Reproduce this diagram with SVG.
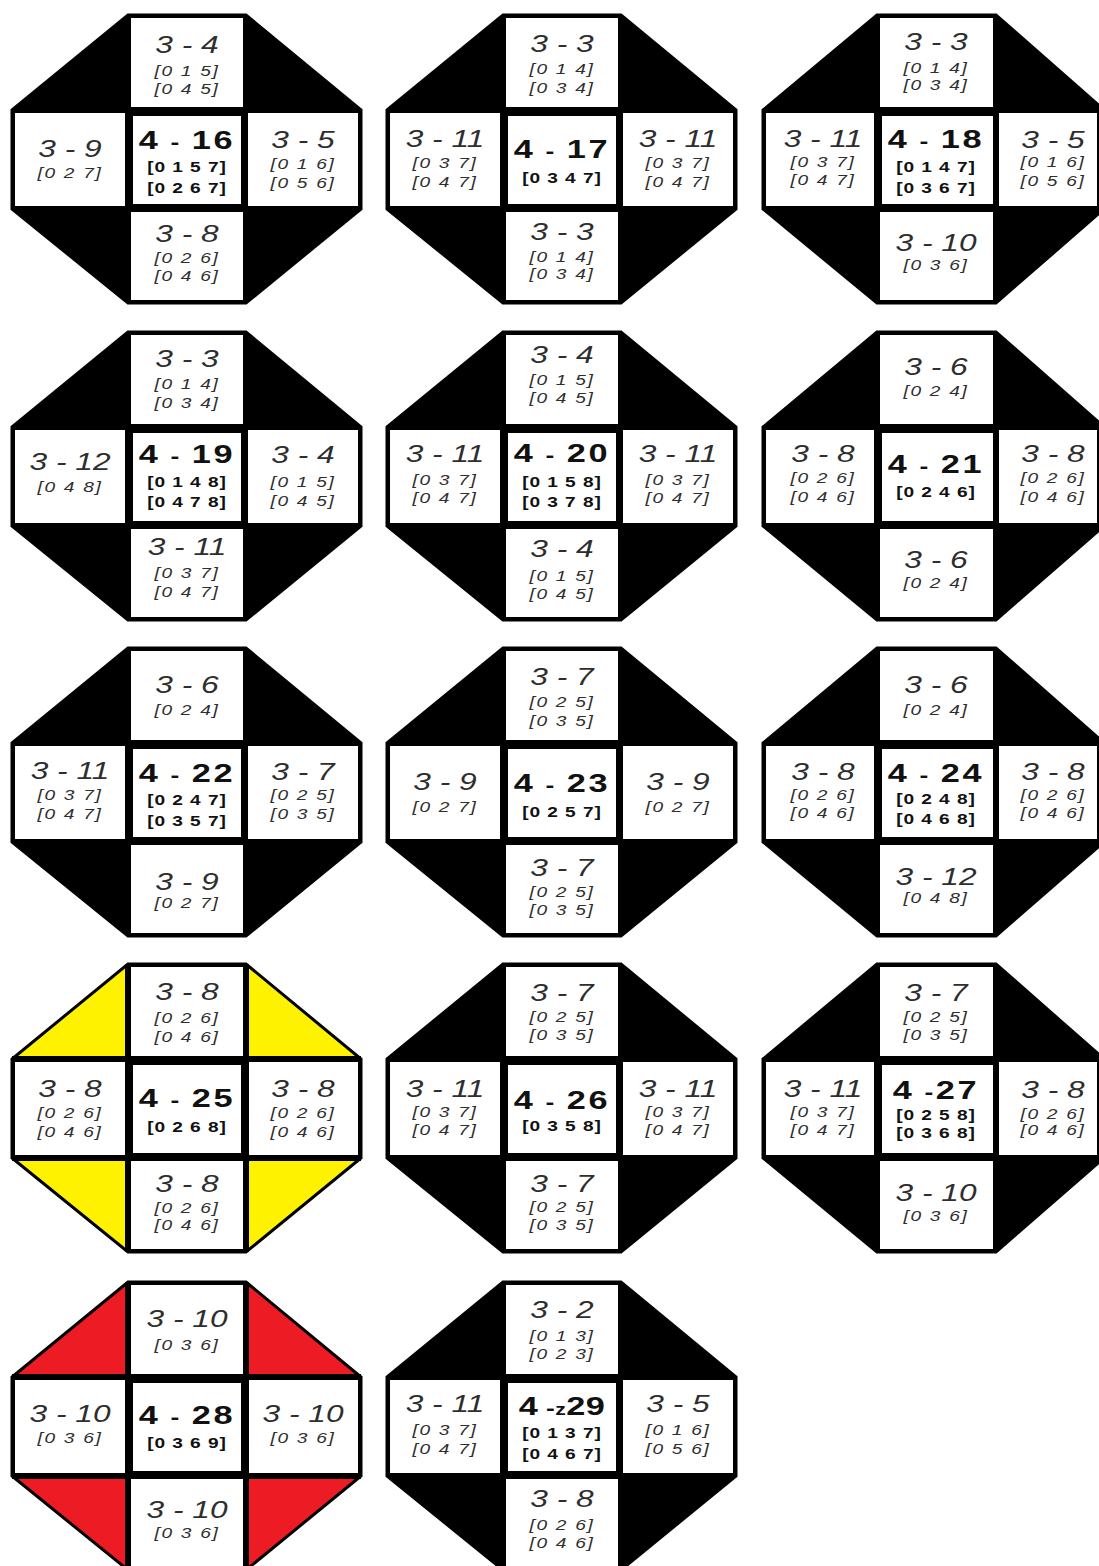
<svg xmlns="http://www.w3.org/2000/svg" width="1099" height="1566" viewBox="0 0 1099 1566">
<style>
text{text-anchor:middle;font-family:"Liberation Sans",Arial,sans-serif}
.m{font-style:italic;font-size:24px;fill:#2e2e2e}
.b{font-style:italic;font-size:14.5px;letter-spacing:1.3px;fill:#2e2e2e}
.M{font-weight:bold;font-size:26px;letter-spacing:2px;fill:#111}
.B{font-weight:bold;font-size:14.5px;letter-spacing:0.7px;fill:#111}
.d{font-size:20px}
.z{font-size:16px}
.w{fill:#fff}
.k{fill:#000}
.o{stroke:#000;stroke-width:3;stroke-linejoin:miter}
</style>
<defs>
<polygon id="oct" class="o" points="116,0 234,0 349,95 349,194 234,288 116,288 0,194 0,95"/>
<g id="cells">
<rect class="k" x="116" y="0" width="118" height="288"/>
<rect class="k" x="0" y="95" width="349" height="99"/>
<rect class="w" x="119" y="3" width="112" height="89"/>
<rect class="w" x="3" y="98" width="110" height="93"/>
<rect class="w" x="121" y="101" width="108" height="88"/>
<rect class="w" x="236" y="98" width="110" height="93"/>
<rect class="w" x="119" y="197" width="112" height="88"/>
</g>
<polygon id="octR" class="o" points="114,0 233,0 341,95 341,194 233,288 114,288 0,194 0,95"/>
<g id="cellsR">
<rect class="k" x="114" y="0" width="119" height="288"/>
<rect class="k" x="0" y="95" width="341" height="99"/>
<rect class="w" x="117" y="3" width="113" height="89"/>
<rect class="w" x="3" y="98" width="108" height="93"/>
<rect class="w" x="119" y="101" width="111" height="88"/>
<rect class="w" x="236" y="98" width="98" height="93"/>
<rect class="w" x="117" y="197" width="113" height="88"/>
</g>
</defs>

<g id="connectors"/>

<g id="n4-16" transform="translate(12,15)">
<use href="#oct" fill="#000"/><use href="#cells"/>
<g transform="translate(175,0) scale(1.32,1)"><text class="m" y="38">3 - 4</text><text class="b" y="61">[0 1 5]</text><text class="b" y="79">[0 4 5]</text></g>
<g transform="translate(58,0) scale(1.32,1)"><text class="m" y="142">3 - 9</text><text class="b" y="163">[0 2 7]</text></g>
<g transform="translate(175,0) scale(1.32,1)"><text class="M" y="134">4<tspan class="d"> - </tspan>16</text><text class="B" y="157">[0 1 5 7]</text><text class="B" y="178">[0 2 6 7]</text></g>
<g transform="translate(291,0) scale(1.32,1)"><text class="m" y="133">3 - 5</text><text class="b" y="154">[0 1 6]</text><text class="b" y="173">[0 5 6]</text></g>
<g transform="translate(175,0) scale(1.32,1)"><text class="m" y="227">3 - 8</text><text class="b" y="248">[0 2 6]</text><text class="b" y="266">[0 4 6]</text></g>
</g>

<g id="n4-17" transform="translate(387,15)">
<use href="#oct" fill="#000"/><use href="#cells"/>
<g transform="translate(175,0) scale(1.32,1)"><text class="m" y="37">3 - 3</text><text class="b" y="59">[0 1 4]</text><text class="b" y="78">[0 3 4]</text></g>
<g transform="translate(58,0) scale(1.32,1)"><text class="m" y="132">3 - 11</text><text class="b" y="153">[0 3 7]</text><text class="b" y="172">[0 4 7]</text></g>
<g transform="translate(175,0) scale(1.32,1)"><text class="M" y="143">4<tspan class="d"> - </tspan>17</text><text class="B" y="168">[0 3 4 7]</text></g>
<g transform="translate(291,0) scale(1.32,1)"><text class="m" y="132">3 - 11</text><text class="b" y="153">[0 3 7]</text><text class="b" y="172">[0 4 7]</text></g>
<g transform="translate(175,0) scale(1.32,1)"><text class="m" y="225">3 - 3</text><text class="b" y="247">[0 1 4]</text><text class="b" y="264">[0 3 4]</text></g>
</g>

<g id="n4-18" transform="translate(763,15)">
<use href="#octR" fill="#000"/><use href="#cellsR"/>
<g transform="translate(173,0) scale(1.32,1)"><text class="m" y="35">3 - 3</text><text class="b" y="58">[0 1 4]</text><text class="b" y="75">[0 3 4]</text></g>
<g transform="translate(60,0) scale(1.32,1)"><text class="m" y="132">3 - 11</text><text class="b" y="152">[0 3 7]</text><text class="b" y="170">[0 4 7]</text></g>
<g transform="translate(173,0) scale(1.32,1)"><text class="M" y="133">4<tspan class="d"> - </tspan>18</text><text class="B" y="157">[0 1 4 7]</text><text class="B" y="178">[0 3 6 7]</text></g>
<g transform="translate(290,0) scale(1.32,1)"><text class="m" y="133">3 - 5</text><text class="b" y="152">[0 1 6]</text><text class="b" y="171">[0 5 6]</text></g>
<g transform="translate(173,0) scale(1.32,1)"><text class="m" y="236">3 - 10</text><text class="b" y="255">[0 3 6]</text></g>
</g>

<g id="n4-19" transform="translate(12,332)">
<use href="#oct" fill="#000"/><use href="#cells"/>
<g transform="translate(175,0) scale(1.32,1)"><text class="m" y="35">3 - 3</text><text class="b" y="57">[0 1 4]</text><text class="b" y="76">[0 3 4]</text></g>
<g transform="translate(58,0) scale(1.32,1)"><text class="m" y="138">3 - 12</text><text class="b" y="160">[0 4 8]</text></g>
<g transform="translate(175,0) scale(1.32,1)"><text class="M" y="131">4<tspan class="d"> - </tspan>19</text><text class="B" y="155">[0 1 4 8]</text><text class="B" y="175">[0 4 7 8]</text></g>
<g transform="translate(291,0) scale(1.32,1)"><text class="m" y="131">3 - 4</text><text class="b" y="155">[0 1 5]</text><text class="b" y="174">[0 4 5]</text></g>
<g transform="translate(175,0) scale(1.32,1)"><text class="m" y="223">3 - 11</text><text class="b" y="246">[0 3 7]</text><text class="b" y="265">[0 4 7]</text></g>
</g>

<g id="n4-20" transform="translate(387,332)">
<use href="#oct" fill="#000"/><use href="#cells"/>
<g transform="translate(175,0) scale(1.32,1)"><text class="m" y="31">3 - 4</text><text class="b" y="53">[0 1 5]</text><text class="b" y="71">[0 4 5]</text></g>
<g transform="translate(58,0) scale(1.32,1)"><text class="m" y="130">3 - 11</text><text class="b" y="153">[0 3 7]</text><text class="b" y="171">[0 4 7]</text></g>
<g transform="translate(175,0) scale(1.32,1)"><text class="M" y="130">4<tspan class="d"> - </tspan>20</text><text class="B" y="155">[0 1 5 8]</text><text class="B" y="175">[0 3 7 8]</text></g>
<g transform="translate(291,0) scale(1.32,1)"><text class="m" y="130">3 - 11</text><text class="b" y="153">[0 3 7]</text><text class="b" y="171">[0 4 7]</text></g>
<g transform="translate(175,0) scale(1.32,1)"><text class="m" y="225">3 - 4</text><text class="b" y="249">[0 1 5]</text><text class="b" y="267">[0 4 5]</text></g>
</g>

<g id="n4-21" transform="translate(763,332)">
<use href="#octR" fill="#000"/><use href="#cellsR"/>
<g transform="translate(173,0) scale(1.32,1)"><text class="m" y="43">3 - 6</text><text class="b" y="64">[0 2 4]</text></g>
<g transform="translate(60,0) scale(1.32,1)"><text class="m" y="130">3 - 8</text><text class="b" y="151">[0 2 6]</text><text class="b" y="170">[0 4 6]</text></g>
<g transform="translate(173,0) scale(1.32,1)"><text class="M" y="141">4<tspan class="d"> - </tspan>21</text><text class="B" y="165">[0 2 4 6]</text></g>
<g transform="translate(290,0) scale(1.32,1)"><text class="m" y="130">3 - 8</text><text class="b" y="151">[0 2 6]</text><text class="b" y="170">[0 4 6]</text></g>
<g transform="translate(173,0) scale(1.32,1)"><text class="m" y="236">3 - 6</text><text class="b" y="256">[0 2 4]</text></g>
</g>

<g id="n4-22" transform="translate(12,648)">
<use href="#oct" fill="#000"/><use href="#cells"/>
<g transform="translate(175,0) scale(1.32,1)"><text class="m" y="45">3 - 6</text><text class="b" y="67">[0 2 4]</text></g>
<g transform="translate(58,0) scale(1.32,1)"><text class="m" y="131">3 - 11</text><text class="b" y="152">[0 3 7]</text><text class="b" y="171">[0 4 7]</text></g>
<g transform="translate(175,0) scale(1.32,1)"><text class="M" y="134">4<tspan class="d"> - </tspan>22</text><text class="B" y="157">[0 2 4 7]</text><text class="B" y="178">[0 3 5 7]</text></g>
<g transform="translate(291,0) scale(1.32,1)"><text class="m" y="132">3 - 7</text><text class="b" y="152">[0 2 5]</text><text class="b" y="171">[0 3 5]</text></g>
<g transform="translate(175,0) scale(1.32,1)"><text class="m" y="242">3 - 9</text><text class="b" y="260">[0 2 7]</text></g>
</g>

<g id="n4-23" transform="translate(387,648)">
<use href="#oct" fill="#000"/><use href="#cells"/>
<g transform="translate(175,0) scale(1.32,1)"><text class="m" y="37">3 - 7</text><text class="b" y="59">[0 2 5]</text><text class="b" y="78">[0 3 5]</text></g>
<g transform="translate(58,0) scale(1.32,1)"><text class="m" y="142">3 - 9</text><text class="b" y="164">[0 2 7]</text></g>
<g transform="translate(175,0) scale(1.32,1)"><text class="M" y="144">4<tspan class="d"> - </tspan>23</text><text class="B" y="169">[0 2 5 7]</text></g>
<g transform="translate(291,0) scale(1.32,1)"><text class="m" y="142">3 - 9</text><text class="b" y="164">[0 2 7]</text></g>
<g transform="translate(175,0) scale(1.32,1)"><text class="m" y="228">3 - 7</text><text class="b" y="249">[0 2 5]</text><text class="b" y="267">[0 3 5]</text></g>
</g>

<g id="n4-24" transform="translate(763,648)">
<use href="#octR" fill="#000"/><use href="#cellsR"/>
<g transform="translate(173,0) scale(1.32,1)"><text class="m" y="45">3 - 6</text><text class="b" y="67">[0 2 4]</text></g>
<g transform="translate(60,0) scale(1.32,1)"><text class="m" y="132">3 - 8</text><text class="b" y="152">[0 2 6]</text><text class="b" y="170">[0 4 6]</text></g>
<g transform="translate(173,0) scale(1.32,1)"><text class="M" y="134">4<tspan class="d"> - </tspan>24</text><text class="B" y="156">[0 2 4 8]</text><text class="B" y="176">[0 4 6 8]</text></g>
<g transform="translate(290,0) scale(1.32,1)"><text class="m" y="132">3 - 8</text><text class="b" y="152">[0 2 6]</text><text class="b" y="170">[0 4 6]</text></g>
<g transform="translate(173,0) scale(1.32,1)"><text class="m" y="237">3 - 12</text><text class="b" y="255">[0 4 8]</text></g>
</g>

<g id="n4-25" transform="translate(12,964)">
<use href="#cells"/><use href="#oct" fill="#fff200"/>
<rect class="k" x="116" y="0" width="118" height="3"/><rect class="k" x="116" y="285" width="118" height="3"/>
<rect class="k" x="113" y="0" width="6" height="288"/><rect class="k" x="231" y="0" width="6" height="288"/>
<rect class="k" x="0" y="92" width="349" height="6"/><rect class="k" x="0" y="191" width="349" height="6"/>
<rect class="k" x="0" y="95" width="3" height="99"/><rect class="k" x="346" y="95" width="3" height="99"/>
<rect class="w" x="119" y="3" width="112" height="89"/>
<rect class="w" x="3" y="98" width="110" height="93"/>
<rect class="k" x="113" y="95" width="124" height="99"/>
<rect class="w" x="121" y="101" width="108" height="88"/>
<rect class="w" x="237" y="98" width="109" height="93"/>
<rect class="w" x="119" y="197" width="112" height="88"/>
<g transform="translate(175,0) scale(1.32,1)"><text class="m" y="36">3 - 8</text><text class="b" y="59">[0 2 6]</text><text class="b" y="78">[0 4 6]</text></g>
<g transform="translate(58,0) scale(1.32,1)"><text class="m" y="133">3 - 8</text><text class="b" y="154">[0 2 6]</text><text class="b" y="173">[0 4 6]</text></g>
<g transform="translate(175,0) scale(1.32,1)"><text class="M" y="143">4<tspan class="d"> - </tspan>25</text><text class="B" y="168">[0 2 6 8]</text></g>
<g transform="translate(291,0) scale(1.32,1)"><text class="m" y="133">3 - 8</text><text class="b" y="154">[0 2 6]</text><text class="b" y="173">[0 4 6]</text></g>
<g transform="translate(175,0) scale(1.32,1)"><text class="m" y="228">3 - 8</text><text class="b" y="249">[0 2 6]</text><text class="b" y="266">[0 4 6]</text></g>
</g>

<g id="n4-26" transform="translate(387,964)">
<use href="#oct" fill="#000"/><use href="#cells"/>
<g transform="translate(175,0) scale(1.32,1)"><text class="m" y="37">3 - 7</text><text class="b" y="58">[0 2 5]</text><text class="b" y="76">[0 3 5]</text></g>
<g transform="translate(58,0) scale(1.32,1)"><text class="m" y="133">3 - 11</text><text class="b" y="153">[0 3 7]</text><text class="b" y="171">[0 4 7]</text></g>
<g transform="translate(175,0) scale(1.32,1)"><text class="M" y="145">4<tspan class="d"> - </tspan>26</text><text class="B" y="167">[0 3 5 8]</text></g>
<g transform="translate(291,0) scale(1.32,1)"><text class="m" y="133">3 - 11</text><text class="b" y="153">[0 3 7]</text><text class="b" y="171">[0 4 7]</text></g>
<g transform="translate(175,0) scale(1.32,1)"><text class="m" y="228">3 - 7</text><text class="b" y="248">[0 2 5]</text><text class="b" y="266">[0 3 5]</text></g>
</g>

<g id="n4-27" transform="translate(763,964)">
<use href="#octR" fill="#000"/><use href="#cellsR"/>
<g transform="translate(173,0) scale(1.32,1)"><text class="m" y="37">3 - 7</text><text class="b" y="58">[0 2 5]</text><text class="b" y="76">[0 3 5]</text></g>
<g transform="translate(60,0) scale(1.32,1)"><text class="m" y="133">3 - 11</text><text class="b" y="153">[0 3 7]</text><text class="b" y="171">[0 4 7]</text></g>
<g transform="translate(173,0) scale(1.32,1)"><text class="M" y="135">4<tspan class="d"> -</tspan>27</text><text class="B" y="156">[0 2 5 8]</text><text class="B" y="174">[0 3 6 8]</text></g>
<g transform="translate(290,0) scale(1.32,1)"><text class="m" y="134">3 - 8</text><text class="b" y="155">[0 2 6]</text><text class="b" y="171">[0 4 6]</text></g>
<g transform="translate(173,0) scale(1.32,1)"><text class="m" y="237">3 - 10</text><text class="b" y="257">[0 3 6]</text></g>
</g>

<g id="n4-28" transform="translate(12,1282)">
<use href="#cells"/><use href="#oct" fill="#ed1c24"/>
<rect class="k" x="116" y="0" width="118" height="3"/>
<rect class="k" x="113" y="0" width="6" height="288"/><rect class="k" x="231" y="0" width="6" height="288"/>
<rect class="k" x="0" y="92" width="349" height="6"/><rect class="k" x="0" y="191" width="349" height="6"/>
<rect class="k" x="0" y="95" width="3" height="99"/><rect class="k" x="346" y="95" width="3" height="99"/>
<rect class="w" x="119" y="3" width="112" height="89"/>
<rect class="w" x="3" y="98" width="110" height="93"/>
<rect class="k" x="113" y="95" width="124" height="99"/>
<rect class="w" x="121" y="101" width="108" height="88"/>
<rect class="w" x="237" y="98" width="109" height="93"/>
<rect class="w" x="119" y="197" width="112" height="88"/>
<g transform="translate(175,0) scale(1.32,1)"><text class="m" y="45">3 - 10</text><text class="b" y="68">[0 3 6]</text></g>
<g transform="translate(58,0) scale(1.32,1)"><text class="m" y="140">3 - 10</text><text class="b" y="161">[0 3 6]</text></g>
<g transform="translate(175,0) scale(1.32,1)"><text class="M" y="142">4<tspan class="d"> - </tspan>28</text><text class="B" y="166">[0 3 6 9]</text></g>
<g transform="translate(291,0) scale(1.32,1)"><text class="m" y="140">3 - 10</text><text class="b" y="161">[0 3 6]</text></g>
<g transform="translate(175,0) scale(1.32,1)"><text class="m" y="236">3 - 10</text><text class="b" y="256">[0 3 6]</text></g>
</g>

<g id="n4-z29" transform="translate(387,1282)">
<use href="#oct" fill="#000"/><use href="#cells"/>
<g transform="translate(175,0) scale(1.32,1)"><text class="m" y="36">3 - 2</text><text class="b" y="59">[0 1 3]</text><text class="b" y="77">[0 2 3]</text></g>
<g transform="translate(58,0) scale(1.32,1)"><text class="m" y="130">3 - 11</text><text class="b" y="153">[0 3 7]</text><text class="b" y="172">[0 4 7]</text></g>
<g transform="translate(175,0) scale(1.32,1)"><text class="M" y="133" style="letter-spacing:0.3px">4<tspan class="d"> -</tspan><tspan class="z">z</tspan>29</text><text class="B" y="156">[0 1 3 7]</text><text class="B" y="177">[0 4 6 7]</text></g>
<g transform="translate(291,0) scale(1.32,1)"><text class="m" y="130">3 - 5</text><text class="b" y="153">[0 1 6]</text><text class="b" y="172">[0 5 6]</text></g>
<g transform="translate(175,0) scale(1.32,1)"><text class="m" y="225">3 - 8</text><text class="b" y="248">[0 2 6]</text><text class="b" y="266">[0 4 6]</text></g>
</g>
</svg>
